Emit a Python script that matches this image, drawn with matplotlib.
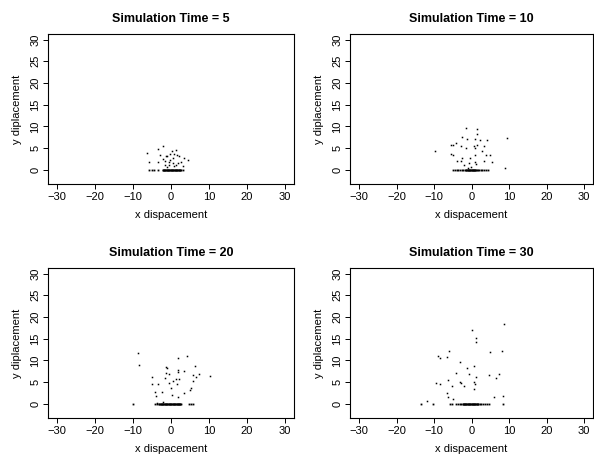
import matplotlib
matplotlib.use("Agg")
import matplotlib.pyplot as plt

plt.rcParams['font.family'] = ['Liberation Sans', 'DejaVu Sans']

# scattered particles (x, y)
t5_x = [-2.2, -6.2, -5.7, -3.4, -2.8, -3.5, -2.0, -1.5, -1.1, -0.3, 0.3, 1.2, 0.7, 1.5, 2.0,
        -0.3, 0.4, -0.5, 1.3, 2.7, 3.5, 4.4, 3.2, -1.6, -1.1, 0.8, -0.6, 0.6, 1.9, -1.4]
t5_y = [5.5, 3.9, 1.7, 4.8, 3.4, 1.8, 2.4, 2.1, 3.1, 3.7, 4.4, 4.6, 3.7, 3.4, 3.1,
        2.3, 1.5, 1.1, 1.1, 1.8, 2.6, 2.2, 0.9, 1.0, 0.6, 0.8, 1.9, 2.7, 1.5, 3.2]
# particles sitting on the ground (y = 0)
t5_ground = [-5.7, -5.1, -4.5, -3.4, -2.2, -2.05, -1.9, -1.75, -1.6, -1.45, -1.3, -1.15,
             -1.0, -0.85, -0.7, -0.55, -0.4, -0.25, -0.1, 0.05, 0.2, 0.35, 0.5, 0.65,
             0.8, 0.95, 1.1, 1.25, 1.4, 1.55, 1.7, 1.85, 2.0, 2.15, 2.3, 2.5, 2.7, 3.1]

t10_x = [-9.7, -1.4, 1.4, 1.4, -2.5, -1.2, 0.9, 2.3, 4.2, -4.2, 1.5, 0.7, 0.8, -5.4, -5.0,
         -2.9, -1.4, 3.2, 9.4, -5.4, -5.0, 2.9, 4.9, 3.9, 0.9, -0.4, -2.5, -4.0, -2.9, -1.9,
         -0.8, 0.8, 1.3, 5.4, 3.2, 9.0, -0.2, -1.0]
t10_y = [4.4, 9.7, 9.4, 8.2, 7.5, 7.1, 7.0, 6.8, 6.8, 6.2, 5.8, 5.4, 5.1, 5.7, 5.7,
         5.4, 5.1, 5.4, 7.4, 3.6, 3.3, 4.3, 3.5, 3.3, 3.5, 2.7, 2.8, 2.1, 2.0, 1.2,
         1.5, 1.8, 1.3, 1.9, 2.1, 0.5, 0.7, 0.5]
t10_ground = [-4.9, -4.5, -4.0, -3.6, -3.0, -2.6, -2.2, -1.8, -1.5, -1.35, -1.2, -1.05,
              -0.9, -0.75, -0.6, -0.45, -0.3, -0.15, 0.0, 0.15, 0.3, 0.45, 0.6, 0.75,
              0.9, 1.05, 1.2, 1.35, 1.6, 2.0, 2.4, 2.9, 3.3, 3.8, 4.5]

t20_x = [-8.7, -8.3, 1.9, 4.2, 6.4, -1.4, -1.0, -1.2, -0.6, 1.8, 1.9, 3.3, 7.3, 5.7, 6.7,
         10.3, -5.0, -1.6, 1.4, 2.1, 0.6, -0.4, 1.6, -5.0, -3.4, 5.9, 5.3, 4.9, -0.1, -2.5,
         -4.2, -4.0, 3.4, 0.3, 1.9, -3.6, -2.2]
t20_y = [11.8, 9.0, 10.5, 11.0, 8.8, 8.4, 8.2, 7.2, 6.9, 7.7, 7.4, 7.6, 6.8, 6.7, 6.2,
         6.4, 6.1, 5.9, 5.7, 5.7, 5.2, 4.8, 4.6, 4.5, 4.5, 5.2, 3.7, 3.2, 3.7, 2.8,
         2.7, 1.8, 2.5, 2.0, 1.5, 0.2, 0.5]
t20_ground = [-9.9, -4.3, -3.6, -3.2, -3.05, -2.9, -2.75, -2.6, -2.45, -2.3, -2.15, -2.0,
              -1.85, -1.7, -1.55, -1.4, -1.25, -1.1, -0.95, -0.8, -0.65, -0.5, -0.35,
              -0.2, -0.05, 0.1, 0.25, 0.4, 0.55, 0.7, 0.85, 1.0, 1.15, 1.3, 1.45, 1.6,
              1.75, 1.9, 2.05, 2.2, 2.35, 2.5, 2.7, 4.7, 5.2, 5.9]

t30_x = [8.7, 0.0, 1.3, 1.1, -6.0, 5.0, 8.2, -9.0, -8.3, -6.6, -3.0, 0.7, -1.3, -4.2, -0.6,
         7.3, 4.7, 6.5, 1.3, -6.2, -3.0, -2.8, 0.7, 0.9, -9.5, -8.4, -5.2, -2.0, 0.7, -6.5,
         -6.2, -5.0, 5.9, 8.4, -11.9]
t30_y = [18.3, 17.0, 15.1, 14.2, 12.2, 12.0, 12.1, 10.9, 10.5, 10.7, 9.6, 8.8, 8.2, 7.1, 6.9,
         6.9, 6.7, 6.0, 6.2, 5.5, 5.1, 4.7, 5.1, 4.6, 4.8, 4.6, 4.1, 4.1, 3.5, 2.4,
         1.5, 1.1, 1.6, 1.9, 0.7]
t30_ground = [-13.6, -10.4, -5.7, -5.2, -4.1, -3.6, -3.2, -2.8, -2.4, -2.25, -2.1, -1.95,
              -1.8, -1.65, -1.5, -1.35, -1.2, -1.05, -0.9, -0.75, -0.6, -0.45, -0.3,
              -0.15, 0.0, 0.15, 0.3, 0.45, 0.6, 0.75, 0.9, 1.05, 1.2, 1.35, 1.5, 1.65,
              1.8, 2.2, 2.6, 3.0, 3.5, 4.0, 4.6, 8.4]

times = [5, 10, 20, 30]
xs = [t5_x, t10_x, t20_x, t30_x]
ys = [t5_y, t10_y, t20_y, t30_y]
grounds = [t5_ground, t10_ground, t20_ground, t30_ground]

W, H = 594, 457
fig = plt.figure(figsize=(W / 100, H / 100), dpi=100)

# panel boxes in pixels: left, top, right, bottom
boxes = [(48, 34, 294, 184), (350, 34, 593, 184),
         (48, 268, 294, 418), (350, 268, 593, 418)]

for i in range(4):
    l, t, r, b = boxes[i]
    ax = fig.add_axes([l / W, 1 - b / H, (r - l) / W, (b - t) / H])
    ax.plot(xs[i], ys[i], 's', color='black', markersize=1.1, markeredgewidth=0)
    ax.plot(grounds[i], [0] * len(grounds[i]), 's', color='black',
            markersize=1.3, markeredgewidth=0)
    ax.set_xlim(-32.4, 32.4)
    ax.set_ylim(-3.28, 31.28)
    ax.set_xticks([-30, -20, -10, 0, 10, 20, 30])
    ax.set_xticklabels(['\u221230', '\u221220', '\u221210', '0', '10', '20', '30'])
    ax.set_yticks([0, 5, 10, 15, 20, 25, 30])
    ax.tick_params(direction='out', length=3.6, width=0.7, labelsize=8, pad=2)
    for lab in ax.get_yticklabels():
        lab.set_rotation(90)
        lab.set_va('center')
    for s in ax.spines.values():
        s.set_linewidth(0.8)
    ax.set_title('Simulation Time = %d' % times[i], fontsize=9, fontweight='bold', pad=9)
    ax.set_xlabel('x dispacement', fontsize=8, labelpad=6)
    ax.set_ylabel('y diplacement', fontsize=8, labelpad=6)

fig.savefig('out.png', dpi=100)
